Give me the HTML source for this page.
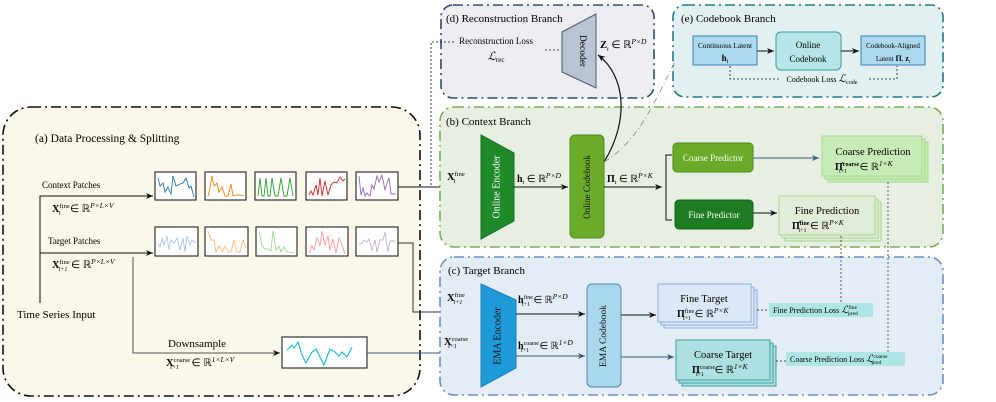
<!DOCTYPE html>
<html><head><meta charset="utf-8"><style>
html,body{margin:0;padding:0;background:#fff;}
svg{display:block;font-family:"Liberation Serif",serif;}
</style></head><body>
<svg width="996" height="402" viewBox="0 0 996 402" xmlns="http://www.w3.org/2000/svg">
<defs>
<marker id="ar" markerWidth="8" markerHeight="8" refX="7" refY="4" orient="auto" markerUnits="userSpaceOnUse"><path d="M0,1 L7,4 L0,7 L2,4 z" fill="#111"/></marker>
<marker id="arb" markerWidth="8" markerHeight="8" refX="7" refY="4" orient="auto" markerUnits="userSpaceOnUse"><path d="M0,1 L7,4 L0,7 L2,4 z" fill="#3a5a7a"/></marker>
</defs>

<!-- (a) -->
<rect x="3" y="107" width="417" height="289" rx="28" fill="#fcf8e9" stroke="#111" stroke-width="1.6" stroke-dasharray="10,4,2,4"/>
<text x="35" y="142" font-size="11.5">(a) Data Processing &amp; Splitting</text>
<text x="42" y="188" font-size="9">Context Patches</text>
<text x="48" y="244" font-size="9">Target Patches</text>
<path d="M40,303 V196 H153" fill="none" stroke="#111" stroke-width="1" marker-end="url(#ar)"/>
<path d="M40,253 H153" fill="none" stroke="#111" stroke-width="1" marker-end="url(#ar)"/>
<text x="52" y="212" font-size="10.5"><tspan font-weight="bold">X</tspan><tspan font-size="6.5" dy="-4">fine</tspan><tspan font-size="6" dx="-11" dy="7" font-style="italic">t</tspan><tspan dx="7" dy="-3"> ∈ ℝ</tspan><tspan font-size="7.5" dy="-4" font-style="italic">P×L×V</tspan></text>
<text x="52" y="268" font-size="10.5"><tspan font-weight="bold">X</tspan><tspan font-size="6.5" dy="-4">fine</tspan><tspan font-size="6" dx="-11" dy="7" font-style="italic">t+1</tspan><tspan dx="1" dy="-3"> ∈ ℝ</tspan><tspan font-size="7.5" dy="-4" font-style="italic">P×L×V</tspan></text>
<text x="17" y="318" font-size="11">Time Series Input</text>
<path d="M133,257 V353 H280" fill="none" stroke="#555" stroke-width="1" marker-end="url(#ar)"/>
<text x="168" y="347" font-size="11">Downsample</text>
<text x="166" y="366" font-size="10.5"><tspan font-weight="bold">X</tspan><tspan font-size="6.5" dy="-4">coarse</tspan><tspan font-size="6" dx="-20" dy="7" font-style="italic">t+1</tspan><tspan dx="10" dy="-3"> ∈ ℝ</tspan><tspan font-size="7.5" dy="-4" font-style="italic">1×L×V</tspan></text>

<g fill="#fff" stroke="#333" stroke-width="1.2">
<rect x="155" y="172" width="41" height="28"/><rect x="205" y="172" width="41" height="28"/><rect x="255" y="172" width="41" height="28"/><rect x="306" y="172" width="41" height="28"/><rect x="356" y="172" width="42" height="28"/>
<rect x="155" y="227" width="43" height="29"/><rect x="205" y="227" width="43" height="29"/><rect x="256" y="227" width="41" height="29"/><rect x="306" y="227" width="42" height="29"/><rect x="356" y="227" width="42" height="29"/>
<rect x="282" y="337" width="85" height="31"/>
</g>
<g fill="none" stroke-width="0.9">
<polyline stroke="#1f77b4" points="158,178 160,186 163,183 165,192 168,187 171,194 173,176 176,186 180,184 183,183 186,178 189,188 191,186 194,197"/>
<polyline stroke="#ff7f0e" points="208,196 210,188 212,176 214,186 217,183 219,192 222,187 225,196 228,196 231,184 233,196 236,195 240,195 244,196"/>
<polyline stroke="#2ca02c" points="258,196 260,178 262,196 264,196 266,178 268,196 270,196 272,178 275,196 278,196 281,178 284,196 287,196 290,178 293,196"/>
<polyline stroke="#d62728" points="309,195 311,191 313,195 316,185 318,195 320,178 322,196 325,181 328,195 331,185 334,182 337,183 340,177 343,181 345,179"/>
<polyline stroke="#9467bd" points="359,176 361,195 363,188 365,196 367,193 370,196 372,185 374,189 377,176 379,182 382,175 385,190 387,183 389,178 391,194 396,194"/>
<polyline stroke="#aec7e8" points="158,243 160,247 162,238 164,245 167,236 169,250 171,240 174,243 177,238 180,250 183,238 185,252 187,236 190,245 192,240 196,243"/>
<polyline stroke="#ffbb78" points="208,231 211,240 214,240 216,252 219,246 222,252 225,246 228,252 231,252 234,240 237,252 240,252 243,240 246,248"/>
<polyline stroke="#98df8a" points="259,232 262,246 265,249 268,249 271,251 273,231 276,250 279,246 281,252 284,247 287,252 290,252 295,253"/>
<polyline stroke="#ff9896" points="309,253 312,246 314,250 317,238 320,246 322,231 325,245 328,236 330,250 333,239 336,253 339,238 342,245 345,254"/>
<polyline stroke="#c5b0d5" points="359,244 362,243 364,240 367,242 369,239 372,250 375,240 377,252 380,240 383,240 385,232 388,252 390,241 395,241"/>
<polyline stroke="#17becf" stroke-width="1.1" points="287,350 292,345 294,348 298,342 302,355 306,363 312,352 316,349 320,357 324,365 330,349 335,352 339,356 342,352 347,357 352,347"/>
</g>
<path d="M398,187 H478" fill="none" stroke="#111" stroke-width="1" marker-end="url(#ar)"/>
<path d="M398,243 H413 V312 H478" fill="none" stroke="#333" stroke-width="1" marker-end="url(#ar)"/>
<path d="M367,353 H478" fill="none" stroke="#3a5a7a" stroke-width="1" marker-end="url(#arb)"/>

<!-- (d) -->
<rect x="441" y="5" width="213" height="93" rx="12" fill="#edeef3" stroke="#2c4a6a" stroke-width="1.6" stroke-dasharray="10,4,2,4"/>
<text x="446" y="22" font-size="11">(d) Reconstruction Branch</text>
<text x="496" y="44" font-size="9" text-anchor="middle">Reconstruction Loss</text>
<text x="496" y="60" font-size="11.5" text-anchor="middle" font-style="italic">ℒ<tspan font-size="7" dy="2" font-style="normal">rec</tspan></text>
<path d="M431,185 V42 H455" fill="none" stroke="#111" stroke-width="0.8" stroke-dasharray="2,2"/>
<path d="M545,50 H560" fill="none" stroke="#111" stroke-width="0.8" stroke-dasharray="2,2"/>
<polygon points="562,32 596,14 596,88 562,72" fill="#b9c5d3" stroke="#4a5a6a" stroke-width="1"/>
<text x="0" y="0" font-size="9.5" transform="translate(582,51) rotate(90)" text-anchor="middle" dominant-baseline="middle">Decoder</text>
<text x="600" y="48" font-size="10.5"><tspan font-weight="bold">Z</tspan><tspan font-size="6" dy="3" font-style="italic">t</tspan><tspan dy="-3"> ∈ ℝ</tspan><tspan font-size="7.5" dy="-4" font-style="italic">P×D</tspan></text>

<!-- (e) -->
<rect x="673" y="5" width="270" height="92" rx="12" fill="#e3f0f1" stroke="#1c7c88" stroke-width="1.6" stroke-dasharray="10,4,2,4"/>
<text x="681" y="22" font-size="11">(e) Codebook Branch</text>
<rect x="693" y="36" width="64" height="29" fill="#add9ee" stroke="#2f85b5" stroke-width="1"/>
<text x="725" y="48" font-size="7.3" text-anchor="middle">Continuous Latent</text>
<text x="725" y="61" font-size="9" text-anchor="middle" font-weight="bold">h<tspan font-size="6" dy="2" font-weight="normal">t</tspan></text>
<rect x="776" y="32" width="65" height="38" rx="5" fill="#b6e6e8" stroke="#3a9aa5" stroke-width="1"/>
<text x="808" y="48" font-size="9" text-anchor="middle">Online</text>
<text x="808" y="62" font-size="9" text-anchor="middle">Codebook</text>
<rect x="861" y="36" width="64" height="29" fill="#add9ee" stroke="#2f85b5" stroke-width="1"/>
<text x="893" y="48" font-size="7" text-anchor="middle">Codebook-Aligned</text>
<text x="893" y="61" font-size="7" text-anchor="middle">Latent <tspan font-weight="bold" font-size="8">Π</tspan>, <tspan font-weight="bold" font-size="8">z</tspan><tspan font-size="5" dy="2">t</tspan></text>
<path d="M757,51 H774" stroke="#111" stroke-width="1" marker-end="url(#ar)"/>
<path d="M841,51 H859" stroke="#111" stroke-width="1" marker-end="url(#ar)"/>
<path d="M730,66 V79 H897 V66" fill="none" stroke="#111" stroke-width="0.8" stroke-dasharray="2,2"/>
<rect x="780" y="72" width="88" height="14" fill="#e3f0f1"/>
<text x="822" y="82" font-size="8" text-anchor="middle">Codebook Loss <tspan font-style="italic" font-size="10.5">ℒ</tspan><tspan font-size="6" dy="2">code</tspan></text>

<!-- (b) -->
<rect x="440" y="107" width="503" height="140" rx="14" fill="#e6efe2" stroke="#78ad58" stroke-width="1.6" stroke-dasharray="10,4,2,4"/>
<text x="446" y="125" font-size="11">(b) Context Branch</text>
<text x="447" y="180" font-size="10.5"><tspan font-weight="bold">X</tspan><tspan font-size="6.5" dy="-4">fine</tspan><tspan font-size="6" dx="-11" dy="7" font-style="italic">t</tspan></text>
<polygon points="481,135 514,153 514,221 481,239" fill="#1e8a2a" stroke="#167020" stroke-width="1"/>
<text font-size="10" fill="#fff" transform="translate(497,187) rotate(-90)" text-anchor="middle" dominant-baseline="middle">Online Encoder</text>
<text x="517" y="182" font-size="10"><tspan font-weight="bold">h</tspan><tspan font-size="6" dy="2" font-style="italic">t</tspan><tspan dy="-2"> ∈ ℝ</tspan><tspan font-size="7.5" dy="-4" font-style="italic">P×D</tspan></text>
<path d="M514,187 H568" stroke="#111" stroke-width="1" marker-end="url(#ar)"/>
<rect x="570" y="135" width="34" height="103" rx="5" fill="#6aab2a" stroke="#4e8a1c" stroke-width="1"/>
<text font-size="9" fill="#111" transform="translate(588,187) rotate(-90)" text-anchor="middle" dominant-baseline="middle">Online Codebook</text>
<text x="607" y="182" font-size="10"><tspan font-weight="bold">Π</tspan><tspan font-size="6" dy="2" font-style="italic">t</tspan><tspan dy="-2"> ∈ ℝ</tspan><tspan font-size="7.5" dy="-4" font-style="italic">P×K</tspan></text>
<path d="M604,187 H662" stroke="#111" stroke-width="1" marker-end="url(#ar)"/>
<path d="M672,155 H666 V220 H672" fill="none" stroke="#111" stroke-width="1"/>
<rect x="673" y="143" width="80" height="29" rx="4" fill="#6aab2a" stroke="#4e8a1c" stroke-width="1"/>
<text x="713" y="161" font-size="9" fill="#fff" text-anchor="middle">Coarse Predictor</text>
<rect x="675" y="200" width="78" height="29" rx="4" fill="#1e7d22" stroke="#166018" stroke-width="1"/>
<text x="714" y="218" font-size="9" fill="#fff" text-anchor="middle">Fine Predictor</text>
<path d="M753,158 H819" stroke="#3a5a7a" stroke-width="1" marker-end="url(#arb)"/>
<path d="M753,213 H777" stroke="#111" stroke-width="1" marker-end="url(#ar)"/>
<rect x="828" y="142" width="100" height="40" fill="#c8ecb8" stroke="#a5d88c"/>
<rect x="825" y="139" width="100" height="40" fill="#c8ecb8" stroke="#a5d88c"/>
<rect x="822" y="136" width="100" height="40" fill="#c8ecb8" stroke="#a5d88c"/>
<text x="873" y="155" font-size="10.5" text-anchor="middle">Coarse Prediction</text>
<text x="835" y="170" font-size="10"><tspan font-weight="bold">Π̂</tspan><tspan font-size="6" dy="-4" font-weight="bold">coarse</tspan><tspan font-size="6" dx="-20" dy="7">t+1</tspan><tspan dx="10" dy="-3"> ∈ ℝ</tspan><tspan font-size="7.5" dy="-4" font-style="italic">1×K</tspan></text>
<rect x="785" y="202" width="96" height="39" fill="#e1ecd9" stroke="#a5d88c"/>
<rect x="782" y="199" width="96" height="39" fill="#e1ecd9" stroke="#a5d88c"/>
<rect x="779" y="196" width="96" height="39" fill="#e1ecd9" stroke="#a5d88c"/>
<text x="827" y="214" font-size="10.5" text-anchor="middle">Fine Prediction</text>
<text x="792" y="229" font-size="10"><tspan font-weight="bold">Π̂</tspan><tspan font-size="6" dy="-4" font-weight="bold">fine</tspan><tspan font-size="6" dx="-11" dy="7">t+1</tspan><tspan dx="1" dy="-3"> ∈ ℝ</tspan><tspan font-size="7.5" dy="-4" font-style="italic">P×K</tspan></text>

<!-- (c) -->
<rect x="440" y="257" width="503" height="138" rx="14" fill="#e4ecf5" stroke="#6a8fc2" stroke-width="1.6" stroke-dasharray="10,4,2,4"/>
<text x="448" y="274" font-size="11">(c) Target Branch</text>
<text x="447" y="301" font-size="10.5"><tspan font-weight="bold">X</tspan><tspan font-size="6.5" dy="-4">fine</tspan><tspan font-size="6" dx="-11" dy="7" font-style="italic">t+1</tspan></text>
<text x="444" y="345" font-size="10.5"><tspan font-weight="bold">X</tspan><tspan font-size="6.5" dy="-4">coarse</tspan><tspan font-size="6" dx="-20" dy="7" font-style="italic">t+1</tspan></text>
<polygon points="481,284 516,300 516,368 481,387" fill="#1e9ad8" stroke="#1680b8" stroke-width="1"/>
<text font-size="10" fill="#111" transform="translate(498,336) rotate(-90)" text-anchor="middle" dominant-baseline="middle">EMA  Encoder</text>
<text x="518" y="303" font-size="10"><tspan font-weight="bold">h</tspan><tspan font-size="6" dy="-4">fine</tspan><tspan font-size="6" dx="-11" dy="7">t+1</tspan><tspan dx="1" dy="-3"> ∈ ℝ</tspan><tspan font-size="7.5" dy="-4" font-style="italic">P×D</tspan></text>
<text x="518" y="349" font-size="10"><tspan font-weight="bold">h</tspan><tspan font-size="6" dy="-4">coarse</tspan><tspan font-size="6" dx="-18" dy="7">t+1</tspan><tspan dx="8" dy="-3"> ∈ ℝ</tspan><tspan font-size="7.5" dy="-4" font-style="italic">1×D</tspan></text>
<path d="M516,314 H585" stroke="#111" stroke-width="1" marker-end="url(#ar)"/>
<path d="M516,356 H585" stroke="#3a5a7a" stroke-width="1" marker-end="url(#arb)"/>
<rect x="587" y="284" width="34" height="103" rx="5" fill="#a9d7ec" stroke="#4a88ae" stroke-width="1"/>
<text font-size="9.5" fill="#111" transform="translate(604,336) rotate(-90)" text-anchor="middle" dominant-baseline="middle">EMA Codebook</text>
<path d="M621,315 H656" stroke="#111" stroke-width="1" marker-end="url(#ar)"/>
<path d="M621,357 H674" stroke="#3a5a7a" stroke-width="1" marker-end="url(#arb)"/>
<rect x="664" y="290" width="93" height="38" fill="#dce8f8" stroke="#8aaee0"/>
<rect x="661" y="287" width="93" height="38" fill="#dce8f8" stroke="#8aaee0"/>
<rect x="658" y="284" width="93" height="38" fill="#dce8f8" stroke="#8aaee0"/>
<text x="704" y="302" font-size="10.5" text-anchor="middle">Fine Target</text>
<text x="677" y="317" font-size="10"><tspan font-weight="bold">Π</tspan><tspan font-size="6" dy="-4">fine</tspan><tspan font-size="6" dx="-11" dy="7">t+1</tspan><tspan dx="1" dy="-3"> ∈ ℝ</tspan><tspan font-size="7.5" dy="-4" font-style="italic">P×K</tspan></text>
<rect x="682" y="346" width="94" height="40" fill="#ade0e0" stroke="#3aa0a0"/>
<rect x="679" y="343" width="94" height="40" fill="#ade0e0" stroke="#3aa0a0"/>
<rect x="676" y="340" width="94" height="40" fill="#ade0e0" stroke="#3aa0a0"/>
<text x="723" y="358" font-size="10.5" text-anchor="middle">Coarse Target</text>
<text x="692" y="373" font-size="10"><tspan font-weight="bold">Π</tspan><tspan font-size="6" dy="-4">coarse</tspan><tspan font-size="6" dx="-19" dy="7">t+1</tspan><tspan dx="8" dy="-3"> ∈ ℝ</tspan><tspan font-size="7.5" dy="-4" font-style="italic">1×K</tspan></text>
<path d="M757,310 H769" stroke="#111" stroke-width="0.8" stroke-dasharray="2,2"/>
<path d="M776,361 H786" stroke="#111" stroke-width="0.8" stroke-dasharray="2,2"/>
<rect x="769" y="303" width="104" height="14" fill="#aee6e6"/>
<text x="773" y="313" font-size="8">Fine Prediction Loss <tspan font-style="italic" font-size="10">ℒ</tspan><tspan font-size="5.5" dy="-4">fine</tspan><tspan font-size="5.5" dx="-9" dy="6">pred</tspan></text>
<rect x="786" y="352" width="119" height="14" fill="#aee6e6"/>
<text x="790" y="362" font-size="8">Coarse Prediction Loss <tspan font-style="italic" font-size="10">ℒ</tspan><tspan font-size="5.5" dy="-4">coarse</tspan><tspan font-size="5.5" dx="-16" dy="6">pred</tspan></text>
<path d="M841,236 V303" stroke="#333" stroke-width="0.8" stroke-dasharray="2,2"/>
<path d="M888,182 V352" stroke="#333" stroke-width="0.8" stroke-dasharray="2,2"/>

<path d="M604,162 C630,120 625,75 598,55" fill="none" stroke="#111" stroke-width="1.2" marker-end="url(#ar)"/>
<path d="M604,162 C640,140 655,100 675,62" fill="none" stroke="#888" stroke-width="0.8" stroke-dasharray="6,3,1,3"/>
</svg>
</body></html>
